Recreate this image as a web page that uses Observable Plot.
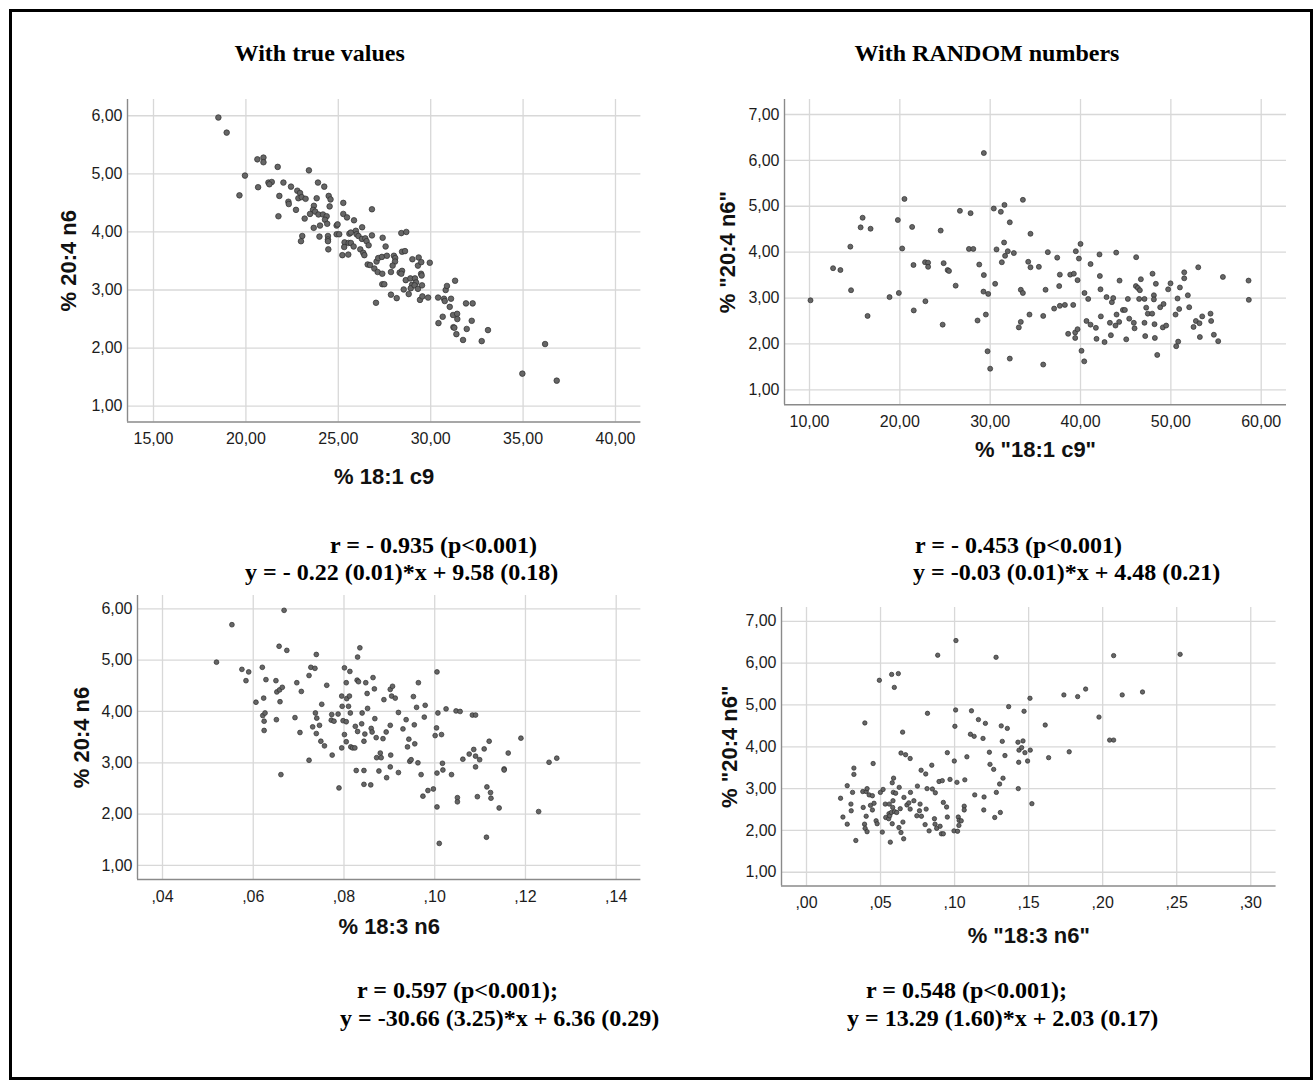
<!DOCTYPE html>
<html><head><meta charset="utf-8">
<script src="https://cdn.jsdelivr.net/npm/d3@7"></script>
<script src="https://cdn.jsdelivr.net/npm/@observablehq/plot@0.6"></script>
<style>
body{margin:0;background:#fff;}
#page{position:relative;width:1316px;height:1083px;background:#fff;overflow:hidden;}
.frame{position:absolute;left:9px;top:9px;width:1304px;height:1071px;border:3px solid #000;box-sizing:border-box;}
#overlay{position:absolute;left:0;top:0;}
</style></head>
<body><div id="page"><div class="frame"></div></div>
<script>
// ---------- data ----------
const panelTitles = ["With true values", "With RANDOM numbers"];
const statsText = [
  ["r = - 0.935 (p<0.001)", "y = - 0.22 (0.01)*x + 9.58 (0.18)"],
  ["r = - 0.453 (p<0.001)", "y = -0.03 (0.01)*x + 4.48 (0.21)"],
  ["r = 0.597 (p<0.001);", "y = -30.66 (3.25)*x + 6.36 (0.29)"],
  ["r = 0.548 (p<0.001);", "y = 13.29 (1.60)*x + 2.03 (0.17)"]
];
const xLabels = ["% 18:1 c9", '% "18:1 c9"', "% 18:3 n6", '% "18:3 n6"'];
const yLabels = ["% 20:4 n6", '% "20:4 n6"', "% 20:4 n6", '% "20:4 n6"'];
const ticksX1 = [15, 20, 25, 30, 35, 40];
const ticksY1 = [1, 2, 3, 4, 5, 6];
const ticksX2 = [10, 20, 30, 40, 50, 60];
const ticksY2 = [1, 2, 3, 4, 5, 6, 7];
const ticksX3 = [0.04, 0.06, 0.08, 0.10, 0.12, 0.14];
const ticksY3 = [1, 2, 3, 4, 5, 6];
const ticksX4 = [0, 0.05, 0.10, 0.15, 0.20, 0.25, 0.30];
const ticksY4 = [1, 2, 3, 4, 5, 6, 7];

// true values: 18:1 c9 vs 20:4 n6
const trueC9 = [[18.51,5.97],[18.96,5.71],[20.62,5.25],[20.95,5.28],[20.95,5.20],[21.72,5.12],[23.41,5.06],[19.95,4.97],[19.65,4.63],[20.66,4.77],[21.22,4.85],[21.40,4.86],[21.27,4.82],[22.03,4.85],[21.81,4.62],[21.76,4.27],[22.44,4.78],[22.30,4.52],[22.32,4.48],[22.71,4.38],[22.78,4.71],[22.93,4.67],[22.84,4.58],[23.02,4.60],[23.23,4.57],[23.18,4.23],[23.05,3.93],[22.98,3.84],[23.90,4.85],[24.24,4.78],[24.48,4.62],[24.58,4.56],[24.53,4.44],[23.83,4.58],[23.68,4.45],[23.63,4.38],[23.47,4.31],[23.75,4.35],[23.93,4.30],[24.17,4.30],[24.37,4.27],[24.28,4.21],[24.40,4.14],[24.01,4.11],[23.67,4.07],[23.98,3.92],[24.44,3.93],[24.44,3.87],[24.44,3.84],[24.46,3.70],[24.91,4.11],[24.96,4.13],[24.91,3.96],[25.05,3.96],[25.27,4.50],[25.27,4.31],[25.47,4.25],[25.85,4.20],[25.34,3.82],[25.32,3.74],[25.22,3.60],[25.54,3.61],[25.56,3.81],[25.60,3.97],[25.68,3.99],[25.95,4.02],[25.99,3.96],[26.09,3.93],[26.29,4.08],[25.68,3.81],[25.83,3.75],[26.19,3.70],[26.35,3.64],[26.41,3.60],[26.28,3.88],[26.46,3.89],[26.53,3.84],[26.64,3.77],[26.82,4.39],[26.82,3.94],[26.59,3.44],[26.72,3.43],[26.95,3.37],[27.07,3.49],[27.16,3.55],[27.13,3.31],[27.38,3.28],[27.38,3.10],[27.49,3.10],[27.04,2.78],[27.40,3.90],[27.56,3.75],[27.36,3.57],[27.63,3.59],[28.01,3.59],[28.08,3.55],[28.07,3.49],[27.94,3.42],[27.85,3.31],[27.85,2.92],[28.16,2.86],[28.41,3.98],[28.68,4.00],[28.45,3.66],[28.61,3.67],[28.32,3.30],[28.45,3.33],[28.41,3.28],[28.65,3.17],[28.54,3.01],[28.81,2.93],[28.90,3.20],[28.99,3.09],[28.92,3.03],[29.15,3.20],[29.21,3.13],[29.13,3.08],[29.31,3.02],[29.01,3.53],[29.35,3.56],[29.31,3.42],[29.49,3.48],[29.48,3.28],[29.51,3.25],[29.53,3.08],[29.42,2.83],[29.55,2.89],[29.86,2.87],[29.95,3.47],[30.40,2.87],[30.42,2.43],[30.65,2.54],[30.72,2.85],[30.76,2.81],[30.81,3.00],[30.88,3.07],[31.10,2.85],[31.03,2.71],[31.32,3.16],[31.21,2.57],[31.43,2.59],[31.44,2.50],[31.23,2.36],[31.28,2.35],[31.39,2.24],[31.75,2.14],[31.91,2.77],[32.27,2.77],[32.22,2.47],[31.95,2.33],[32.76,2.12],[33.10,2.31],[36.19,2.07],[34.96,1.56],[36.82,1.44]];

// random numbers: "18:1 c9" vs "20:4 n6"
const randomC9 = [[10.11,2.95],[12.61,3.65],[13.42,3.61],[14.52,4.12],[14.60,3.17],[15.66,4.54],[15.88,4.75],[16.76,4.51],[16.43,2.61],[18.86,3.02],[19.78,4.70],[19.89,3.11],[20.26,4.08],[20.51,5.16],[21.36,4.55],[21.51,3.72],[21.54,2.73],[22.79,3.78],[23.13,3.77],[23.13,3.68],[22.83,2.93],[24.52,4.47],[24.74,2.42],[24.85,3.76],[25.29,3.61],[25.44,3.59],[26.18,3.27],[26.65,4.90],[27.83,4.85],[27.65,4.07],[28.13,4.07],[28.60,2.51],[28.79,3.73],[29.30,3.50],[29.26,3.14],[29.78,3.09],[29.52,2.64],[29.30,6.16],[29.71,1.84],[30.00,1.46],[30.40,4.95],[31.18,4.88],[31.58,5.03],[31.54,4.21],[30.70,4.06],[31.95,4.02],[31.65,3.92],[31.29,3.78],[30.55,3.31],[32.17,4.65],[32.17,1.68],[33.62,5.14],[34.46,4.40],[32.62,3.98],[34.21,3.79],[34.46,3.67],[35.39,3.68],[36.38,4.00],[37.42,3.88],[37.71,3.51],[37.64,3.26],[33.39,3.18],[33.62,3.11],[36.13,3.18],[34.35,2.64],[33.39,2.48],[33.17,2.36],[35.87,2.61],[35.87,1.55],[37.08,2.77],[37.71,2.83],[38.27,2.85],[39.19,2.85],[38.63,2.22],[39.41,2.25],[39.41,2.13],[39.67,2.32],[38.86,3.51],[39.26,3.53],[39.67,3.39],[39.48,4.02],[40.00,4.18],[39.82,3.86],[40.11,1.85],[40.41,1.62],[40.44,3.11],[40.85,2.98],[41.11,3.74],[40.66,2.50],[41.11,2.42],[41.70,2.35],[41.77,2.11],[42.10,3.95],[42.14,3.48],[42.21,3.19],[42.25,2.60],[42.66,2.04],[42.88,3.02],[43.47,2.91],[43.62,3.00],[43.25,2.46],[43.36,2.19],[43.95,3.99],[43.99,2.64],[43.87,2.40],[44.28,2.48],[44.32,3.38],[44.69,2.74],[44.91,2.74],[45.06,2.10],[45.24,2.98],[45.39,2.55],[45.90,2.46],[45.98,2.34],[46.16,3.89],[46.13,3.26],[46.35,3.22],[46.57,3.17],[46.68,3.41],[46.49,2.98],[47.08,2.98],[47.08,2.46],[47.16,2.17],[47.27,2.79],[47.45,2.66],[47.93,2.66],[47.97,3.53],[48.12,3.06],[48.12,2.97],[48.34,3.31],[48.19,2.43],[48.23,2.13],[48.49,1.76],[48.82,2.80],[49.19,2.87],[49.11,2.36],[49.48,2.40],[49.70,3.19],[49.96,3.32],[50.52,2.64],[50.74,2.99],[50.92,2.76],[50.81,2.05],[50.59,1.95],[51.00,3.23],[51.48,3.56],[51.48,3.43],[51.88,3.06],[52.03,2.80],[52.51,2.37],[52.77,2.50],[53.17,2.45],[53.21,2.15],[53.47,2.60],[53.03,3.67],[54.39,2.66],[54.46,2.50],[54.76,2.20],[55.24,2.06],[55.76,3.46],[58.60,3.38],[58.63,2.96]];

// true values: 18:3 n6 vs 20:4 n6
const trueN6 = [[0.0519,4.96],[0.0553,5.69],[0.0575,4.82],[0.0590,4.77],[0.0584,4.60],[0.0606,4.18],[0.0620,4.86],[0.0623,4.26],[0.0628,4.62],[0.0624,3.81],[0.0624,3.63],[0.0621,3.92],[0.0626,3.97],[0.0651,3.84],[0.0650,4.60],[0.0652,4.38],[0.0657,5.27],[0.0659,4.19],[0.0658,4.42],[0.0664,4.47],[0.0668,5.97],[0.0674,5.19],[0.0661,2.77],[0.0692,3.88],[0.0696,4.56],[0.0706,4.39],[0.0703,3.59],[0.0723,3.05],[0.0723,4.70],[0.0727,4.86],[0.0736,4.84],[0.0739,5.11],[0.0731,3.70],[0.0737,3.97],[0.0740,3.87],[0.0746,3.73],[0.0739,3.57],[0.0751,4.14],[0.0749,3.42],[0.0757,3.33],[0.0762,4.51],[0.0773,3.94],[0.0772,3.83],[0.0778,3.81],[0.0774,3.15],[0.0787,3.95],[0.0789,2.51],[0.0795,4.30],[0.0796,4.10],[0.0798,3.82],[0.0795,3.29],[0.0801,3.55],[0.0805,3.80],[0.0805,3.41],[0.0801,4.85],[0.0805,4.56],[0.0806,4.25],[0.0810,4.10],[0.0812,4.30],[0.0813,4.78],[0.0814,3.97],[0.0815,3.31],[0.0819,3.29],[0.0824,3.29],[0.0825,3.71],[0.0827,2.85],[0.0830,3.61],[0.0830,5.06],[0.0835,5.24],[0.0829,4.61],[0.0832,4.58],[0.0839,3.76],[0.0840,3.97],[0.0844,2.85],[0.0844,2.58],[0.0844,3.42],[0.0846,3.56],[0.0848,4.56],[0.0851,4.35],[0.0852,4.06],[0.0859,2.57],[0.0860,3.67],[0.0862,3.60],[0.0864,4.66],[0.0867,4.44],[0.0868,3.86],[0.0871,3.49],[0.0872,3.10],[0.0877,2.84],[0.0880,3.19],[0.0882,3.10],[0.0886,3.47],[0.0888,4.23],[0.0893,3.60],[0.0894,2.71],[0.0902,2.92],[0.0903,3.15],[0.0902,3.73],[0.0902,4.43],[0.0907,4.49],[0.0905,4.30],[0.0913,4.26],[0.0920,3.98],[0.0920,2.81],[0.0964,4.56],[0.0953,4.29],[0.0960,4.08],[0.0979,4.12],[0.0977,3.89],[0.0937,3.84],[0.0930,3.66],[0.0955,3.74],[0.0943,3.46],[0.0940,3.31],[0.0956,3.37],[0.0945,3.03],[0.0948,3.06],[0.0963,3.00],[0.0970,2.77],[0.0974,2.35],[0.0985,2.46],[0.0997,2.49],[0.1005,4.77],[0.1007,3.97],[0.1004,3.68],[0.1001,3.53],[0.1015,3.55],[0.1025,4.05],[0.1017,2.99],[0.1005,2.80],[0.1018,2.86],[0.1037,2.77],[0.1005,2.14],[0.1010,1.43],[0.1047,4.01],[0.1056,4.00],[0.1083,3.93],[0.1090,3.93],[0.1062,3.07],[0.1076,3.17],[0.1086,3.26],[0.1090,3.13],[0.1099,3.06],[0.1090,2.92],[0.1050,2.32],[0.1050,2.24],[0.1094,2.34],[0.1109,3.27],[0.1120,3.42],[0.1115,2.53],[0.1123,2.42],[0.1124,2.31],[0.1142,2.12],[0.1114,1.55],[0.1153,2.88],[0.1153,2.86],[0.1162,3.19],[0.1190,3.48],[0.1229,2.05],[0.1252,3.01],[0.1269,3.09]];

// random numbers: "18:3 n6" vs "20:4 n6"
const randomN6 = [[0.0230,2.77],[0.0246,2.32],[0.0275,2.15],[0.0275,3.07],[0.0300,2.63],[0.0302,2.47],[0.0311,2.91],[0.0320,3.34],[0.0320,3.49],[0.0333,1.76],[0.0380,2.93],[0.0383,2.55],[0.0392,2.15],[0.0394,4.57],[0.0396,2.05],[0.0409,1.97],[0.0403,2.93],[0.0409,3.00],[0.0423,2.85],[0.0403,2.34],[0.0432,2.60],[0.0445,2.83],[0.0450,3.60],[0.0445,2.49],[0.0456,2.65],[0.0470,2.23],[0.0477,2.16],[0.0492,5.59],[0.0499,2.91],[0.0512,1.96],[0.0517,2.98],[0.0532,2.63],[0.0535,2.31],[0.0559,2.63],[0.0555,2.28],[0.0557,2.40],[0.0562,2.35],[0.0566,1.72],[0.0575,5.73],[0.0593,5.42],[0.0620,5.75],[0.0573,2.43],[0.0579,3.14],[0.0582,2.55],[0.0584,2.71],[0.0588,3.25],[0.0579,2.16],[0.0586,2.91],[0.0602,2.89],[0.0595,2.45],[0.0609,2.43],[0.0626,3.03],[0.0633,2.52],[0.0624,2.07],[0.0638,1.95],[0.0651,2.20],[0.0656,1.80],[0.0649,4.35],[0.0638,3.85],[0.0669,3.81],[0.0700,3.72],[0.0658,2.79],[0.0678,2.61],[0.0691,2.66],[0.0702,2.91],[0.0700,2.51],[0.0725,2.71],[0.0749,3.06],[0.0745,2.35],[0.0767,2.63],[0.0763,2.47],[0.0774,3.44],[0.0776,2.34],[0.0801,2.14],[0.0805,3.35],[0.0817,4.80],[0.0808,2.51],[0.0828,1.99],[0.0814,3.00],[0.0846,3.56],[0.0850,2.99],[0.0864,2.28],[0.0870,2.90],[0.0868,2.15],[0.0886,6.19],[0.0879,2.05],[0.0895,3.17],[0.0902,2.10],[0.0917,3.19],[0.0911,1.92],[0.0924,1.92],[0.0924,2.67],[0.0946,2.56],[0.0951,3.86],[0.0951,2.32],[0.0969,3.22],[0.0998,3.66],[0.1002,4.49],[0.1007,4.88],[0.1009,6.54],[0.0996,1.99],[0.1020,1.98],[0.1016,3.15],[0.1025,2.32],[0.1031,2.24],[0.1029,2.12],[0.1045,2.23],[0.1065,2.58],[0.1065,2.49],[0.1069,3.21],[0.1083,3.76],[0.1114,4.86],[0.1107,4.30],[0.1132,4.25],[0.1136,2.85],[0.1161,4.65],[0.1192,4.20],[0.1208,4.56],[0.1199,2.80],[0.1197,2.49],[0.1235,3.87],[0.1239,3.58],[0.1264,3.46],[0.1280,6.14],[0.1271,2.31],[0.1282,2.91],[0.1304,3.11],[0.1309,2.43],[0.1315,4.50],[0.1322,4.13],[0.1327,3.25],[0.1340,3.79],[0.1356,4.44],[0.1365,4.96],[0.1509,5.16],[0.1469,4.85],[0.1428,4.11],[0.1462,4.14],[0.1435,3.92],[0.1453,3.98],[0.1475,3.86],[0.1511,3.92],[0.1433,3.63],[0.1493,3.66],[0.1430,3.00],[0.1522,2.64],[0.1612,4.52],[0.1635,3.74],[0.1738,5.24],[0.1831,5.20],[0.1885,5.38],[0.1774,3.88],[0.1975,4.71],[0.2047,4.16],[0.2074,4.16],[0.2074,6.18],[0.2132,5.24],[0.2269,5.31],[0.2523,6.21]];

// ---------- drawing ----------
const page = document.getElementById("page");
const fmtBig = d => d.toFixed(2).replace(".", ",");
const fmtSmall = d => d.toFixed(2).replace(/^0/, "").replace(".", ",");

function panel(o) {
  const ml = 95, mr = 24, mt = 12, mb = 80;
  const width = ml + (o.R - o.L) + mr, height = mt + (o.B - o.T) + mb;
  const svg = Plot.plot({
    width, height, marginLeft: ml, marginRight: mr, marginTop: mt, marginBottom: mb,
    style: {fontFamily: "'Liberation Sans', Arial, sans-serif", fontSize: "16px", color: "#1c1c1c", background: "transparent", overflow: "visible"},
    x: {domain: o.xDomain},
    y: {domain: o.yDomain},
    marks: [
      Plot.gridY(o.yTicks, {stroke: "#d8d8d8", strokeOpacity: 1, strokeWidth: 1.3}),
      Plot.gridX(o.xTicks, {stroke: "#d8d8d8", strokeOpacity: 1, strokeWidth: 1.3}),
      Plot.ruleX([o.xDomain[0]], {stroke: "#8a8a8a", strokeWidth: 1.4}),
      Plot.ruleY([o.yDomain[0]], {stroke: "#8a8a8a", strokeWidth: 1.4}),
      Plot.dot(o.data, {x: d => d[0], y: d => d[1], r: o.r, fill: "#666", stroke: "#2e2e2e", strokeWidth: 0.7}),
      Plot.axisX(o.xTicks, {tickSize: 0, tickPadding: 11, tickFormat: o.xFmt, label: null}),
      Plot.axisY(o.yTicks, {tickSize: 0, tickPadding: 5, tickFormat: o.yFmt, label: null}),
      Plot.text([o.xLabel], {text: d => d, frameAnchor: "bottom", dy: o.xDy, textAnchor: "middle", lineAnchor: "middle", fontSize: 22, fontWeight: "bold", fill: "#111"}),
      Plot.text([o.yLabel], {text: d => d, frameAnchor: "left", dx: o.yDx, rotate: -90, textAnchor: "middle", lineAnchor: "middle", fontSize: 22, fontWeight: "bold", fill: "#111"})
    ]
  });
  svg.style.position = "absolute";
  svg.style.left = (o.L - ml) + "px";
  svg.style.top = (o.T - mt) + "px";
  page.appendChild(svg);
}

panel({data: trueC9, L: 127.3, R: 640.7, T: 99, B: 421.5, xDomain: [13.593, 41.374], yDomain: [0.728, 6.28],
  xTicks: ticksX1, yTicks: ticksY1, xFmt: fmtBig, yFmt: fmtBig, xLabel: xLabels[0], yLabel: yLabels[0], xDy: 55, yDx: -59, r: 2.8});
panel({data: randomC9, L: 784, R: 1286, T: 99, B: 404.3, xDomain: [7.233, 62.80], yDomain: [0.673, 7.327],
  xTicks: ticksX2, yTicks: ticksY2, xFmt: fmtBig, yFmt: fmtBig, xLabel: xLabels[1], yLabel: yLabels[1], xDy: 45, yDx: -57, r: 2.5});
panel({data: trueN6, L: 137.3, R: 640.7, T: 595, B: 879, xDomain: [0.03449, 0.14544], yDomain: [0.727, 6.259],
  xTicks: ticksX3, yTicks: ticksY3, xFmt: fmtSmall, yFmt: fmtBig, xLabel: xLabels[2], yLabel: yLabels[2], xDy: 47, yDx: -56, r: 2.4});
panel({data: randomN6, L: 780.7, R: 1275.3, T: 606.5, B: 885, xDomain: [-0.01688, 0.3171], yDomain: [0.672, 7.33],
  xTicks: ticksX4, yTicks: ticksY4, xFmt: fmtSmall, yFmt: fmtBig, xLabel: xLabels[3], yLabel: yLabels[3], xDy: 50, yDx: -52, r: 2.2});

// titles and statistics text (real text, in an overlay)
const ns = "http://www.w3.org/2000/svg";
const ov = document.createElementNS(ns, "svg");
ov.setAttribute("id", "overlay");
ov.setAttribute("width", 1316); ov.setAttribute("height", 1083);
ov.style.fontFamily = "'Liberation Serif', 'Times New Roman', serif";
ov.style.fontWeight = "bold";
ov.style.fontSize = "24px";
page.appendChild(ov);
function addText(str, x, y, anchor) {
  const t = document.createElementNS(ns, "text");
  t.setAttribute("x", x); t.setAttribute("y", y);
  t.setAttribute("text-anchor", anchor);
  t.setAttribute("fill", "#000");
  t.textContent = str;
  ov.appendChild(t);
}
addText(panelTitles[0], 319.7, 61, "middle");
addText(panelTitles[1], 987, 61, "middle");
const statPos = [[[330, 553], [245, 580]], [[915, 553], [913, 580]], [[357, 998], [340, 1026]], [[866, 998], [847, 1026]]];
statsText.forEach((lines, i) => lines.forEach((s, j) => addText(s, statPos[i][j][0], statPos[i][j][1], "start")));
</script>
</body></html>
